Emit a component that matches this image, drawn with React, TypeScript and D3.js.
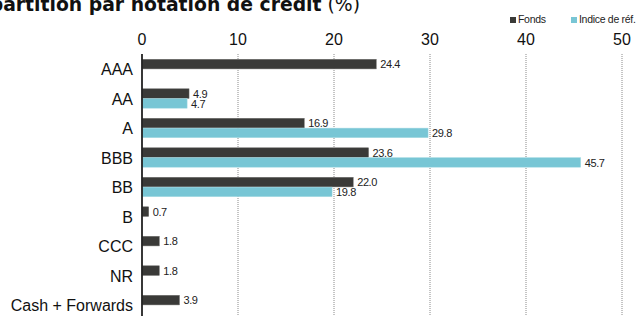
import * as d3 from "d3";

const categories = ["AAA", "AA", "A", "BBB", "BB", "B", "CCC", "NR", "Cash + Forwards"];
const fonds: (number | null)[] = [24.4, 4.9, 16.9, 23.6, 22.0, 0.7, 1.8, 1.8, 3.9];
const indice: (number | null)[] = [null, 4.7, 29.8, 45.7, 19.8, null, null, null, null];
const xTicks = [0, 10, 20, 30, 40, 50];

const seriesNames = ["Fonds", "Indice de réf."];
const colors = ["#3a3a38", "#78c6d5"];

const W = 641;
const H = 316;
const font = "'Liberation Sans', Arial, sans-serif";

export default function App() {
  const x = d3.scaleLinear().domain([0, 50]).range([142, 622]);
  const y = d3.scaleBand<string>().domain(categories).range([54.25, 319.75]).padding(0);
  const sub = d3.scaleBand<string>().domain(seriesNames).range([0, 19.4]).paddingInner(0.02);
  const offset = (y.bandwidth() - 19.4) / 2;
  const series = [fonds, indice];

  return (
    <svg
      width={W}
      height={H}
      style={{ position: "absolute", left: 0, top: 0, fontFamily: font }}
    >
      {/* titre coupé en haut à gauche */}
      <text
        x={360}
        y={11}
        textAnchor="end"
        fontSize={18.8}
        fill="#111"
        fontFamily="'DejaVu Sans', sans-serif"
      >
        <tspan fontWeight="bold">Répartition par notation de crédit</tspan>
        <tspan> (%)</tspan>
      </text>

      {/* légende */}
      {seriesNames.map((s, i) => {
        const lx = i === 0 ? 510 : 571;
        return (
          <g key={s}>
            <rect x={lx} y={17} width={6} height={6} fill={colors[i]} />
            <text x={lx + 8} y={23} fontSize={10.5} fill="#222" letterSpacing={-0.3}>
              {s}
            </text>
          </g>
        );
      })}

      {/* ticks + grille */}
      {xTicks.map((t) => (
        <g key={t}>
          <text x={x(t)} y={45} textAnchor="middle" fontSize={16} fill="#111">
            {t}
          </text>
          {t > 0 && (
            <line
              x1={x(t)}
              x2={x(t)}
              y1={54}
              y2={H}
              stroke="#8a8a8a"
              strokeWidth={1}
              strokeDasharray="1 1"
            />
          )}
        </g>
      ))}

      {/* barres */}
      {categories.map((c, ci) => (
        <g key={c}>
          <text
            x={133}
            y={(y(c) ?? 0) + y.bandwidth() / 2 + 6}
            textAnchor="end"
            fontSize={16}
            fill="#111"
          >
            {c}
          </text>
          {series.map((vals, si) => {
            const v = vals[ci];
            if (v == null) return null;
            const by = (y(c) ?? 0) + offset + (sub(seriesNames[si]) ?? 0);
            const bh = sub.bandwidth();
            return (
              <g key={si}>
                <rect
                  x={x(0)}
                  y={by}
                  width={x(v) - x(0)}
                  height={bh}
                  fill={colors[si]}
                  stroke={si === 0 ? "#6a6a68" : "#a8dbe4"}
                  strokeWidth={0.5}
                />
                <text
                  x={x(v) + 4}
                  y={by + bh - 0.5}
                  fontSize={11}
                  fill="#222"
                  letterSpacing={-0.4}
                >
                  {v.toFixed(1)}
                </text>
              </g>
            );
          })}
        </g>
      ))}

      {/* axe vertical */}
      <line x1={x(0)} x2={x(0)} y1={54} y2={H} stroke="#222" strokeWidth={1.8} />
    </svg>
  );
}
